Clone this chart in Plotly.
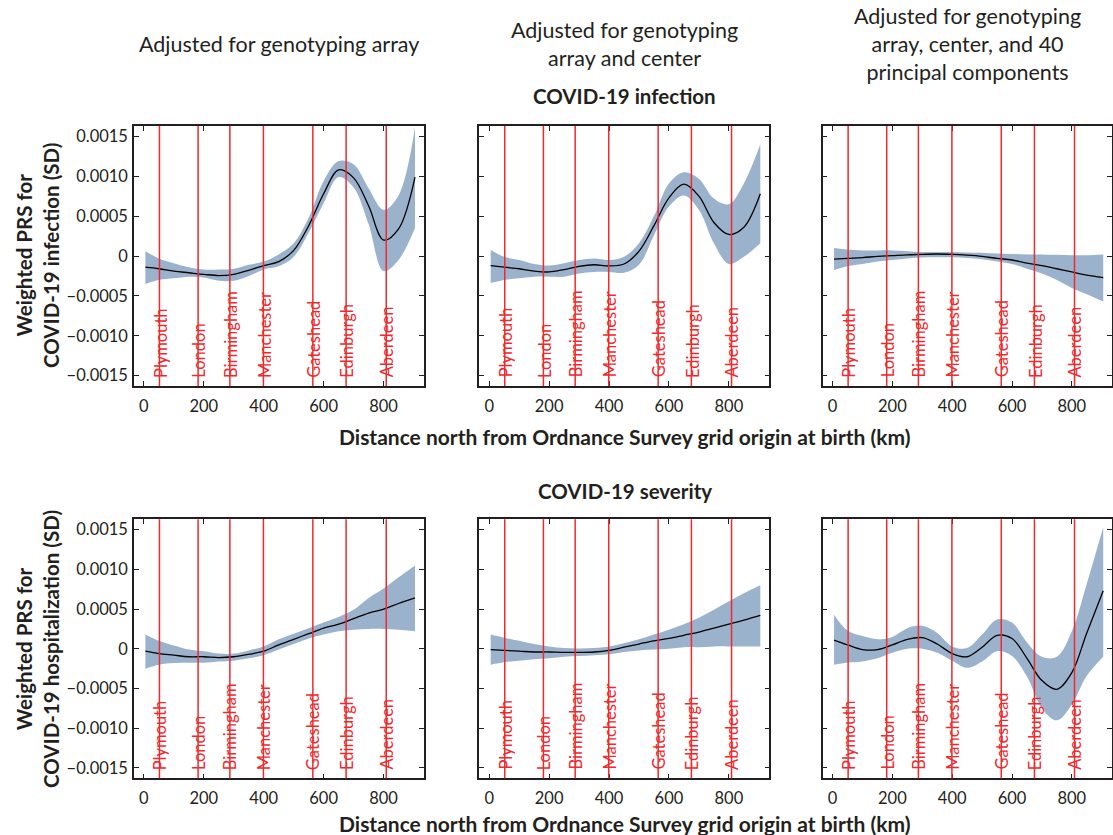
import plotly.graph_objects as go

# ---------------- data ----------------
dist_km = [5, 50, 100, 150, 200, 250, 300, 350, 400, 450, 500, 550, 600, 650, 700, 750, 800, 850, 905]

cities = ["Plymouth", "London", "Birmingham", "Manchester", "Gateshead", "Edinburgh", "Aberdeen"]
city_km = [52, 181, 287, 399, 564, 675, 809]

# COVID-19 infection, adjusted for genotyping array
inf_a_mean = [-0.00014, -0.00016, -0.00019, -0.00021, -0.00023, -0.000245, -0.00023, -0.00018, -0.00012, -0.00007,
              0.00007, 0.00038, 0.00078, 0.00108, 0.00098, 0.00063, 0.0002, 0.00034, 0.00099]
inf_a_hi = [0.00006, -0.00003, -0.00009, -0.00014, -0.00017, -0.00017, -0.00016, -0.00011, -0.00007, 0.00002,
            0.00016, 0.00048, 0.00094, 0.00119, 0.00115, 0.00085, 0.00058, 0.00076, 0.00161]
inf_a_lo = [-0.00035, -0.0003, -0.00028, -0.00026, -0.00027, -0.00031, -0.00031, -0.00025, -0.00017, -0.00013,
            -0.00001, 0.00029, 0.00066, 0.00099, 0.00086, 0.0004, -0.00019, -0.00005, 0.00035]

# COVID-19 infection, adjusted for array and center
inf_ac_mean = [-0.00012, -0.00014, -0.00016, -0.00019, -0.0002, -0.00017, -0.00013, -0.00011, -0.000125, -0.0001,
               0.00006, 0.00038, 0.00073, 0.0009, 0.00075, 0.00042, 0.00027, 0.00036, 0.00078]
inf_ac_hi = [0.000075, -0.00001, -0.00005, -0.0001, -0.00012, -0.00009, -0.00005, -0.00003, -0.00005, -0.00001,
             0.00016, 0.0005, 0.00091, 0.00105, 0.00097, 0.00072, 0.00065, 0.00091, 0.0014]
inf_ac_lo = [-0.00034, -0.0003, -0.00028, -0.00026, -0.00026, -0.00026, -0.00022, -0.0002, -0.0002, -0.00021,
             -0.00011, 0.00026, 0.00062, 0.00076, 0.00058, 0.00016, -0.0001, -0.00001, 0.00016]

# COVID-19 infection, adjusted for array, center and 40 PCs
inf_acp_mean = [-0.00004, -0.00003, -0.00002, -0.000005, 0.000005, 0.000015, 0.00002, 0.000025, 0.00002, 0.00001,
                -0.000005, -0.00003, -0.00005, -0.00009, -0.00012, -0.00016, -0.0002, -0.00024, -0.00027]
inf_acp_hi = [0.0001, 0.00008, 0.00007, 0.00007, 0.00007, 0.00006, 0.00005, 0.00005, 0.00005, 0.000045,
              0.00004, 0.00003, 0.000025, 0.00002, 0.00002, 0.000015, 0.00001, 0.00001, 0.00002]
inf_acp_lo = [-0.000175, -0.00013, -0.0001, -0.00007, -0.00005, -0.00003, -0.00002, -0.000017, -0.000017, -0.000025,
              -0.00004, -0.00007, -0.0001, -0.00016, -0.00022, -0.0003, -0.0004, -0.00048, -0.00057]

# COVID-19 severity, adjusted for genotyping array
sev_a_mean = [-0.00003, -0.00006, -0.00008, -0.0001, -0.0001, -0.00011, -0.0001, -0.00007, -0.00003, 0.00005,
              0.00012, 0.00019, 0.00026, 0.00031, 0.00038, 0.00045, 0.0005, 0.00057, 0.00064]
sev_a_hi = [0.00018, 0.0001, 0.00004, -0.00001, -0.00003, -0.00006, -0.00006, -0.00002, 0.00003, 0.00012,
            0.00019, 0.00026, 0.00033, 0.0004, 0.00049, 0.00064, 0.00076, 0.0009, 0.00105]
sev_a_lo = [-0.00025, -0.0002, -0.00018, -0.000175, -0.000175, -0.00016, -0.00015, -0.00012, -0.00008, -0.00001,
            0.00006, 0.00013, 0.00018, 0.00022, 0.00024, 0.00025, 0.00025, 0.00024, 0.00022]

# COVID-19 severity, adjusted for array and center
sev_ac_mean = [-0.00001, -0.00002, -0.00003, -0.00004, -0.00004, -0.000045, -0.000045, -0.00004, -0.00002, 0.00002,
               0.00006, 0.0001, 0.00013, 0.00017, 0.00021, 0.00026, 0.00031, 0.00036, 0.00042]
sev_ac_hi = [0.00018, 0.00014, 0.0001, 0.00006, 0.00003, 0.00001, 0.000005, 0.00001, 0.00003, 0.00007,
             0.00012, 0.00018, 0.00024, 0.00031, 0.00039, 0.00049, 0.0006, 0.0007, 0.0008]
sev_ac_lo = [-0.0002, -0.00017, -0.00015, -0.00013, -0.00012, -0.0001, -0.00009, -0.00008, -0.00007, -0.00004,
             -0.00002, -0.00001, 0.0, 0.00002, 0.00002, 0.00003, 0.00003, 0.00003, 0.00003]

# COVID-19 severity, adjusted for array, center and 40 PCs
sev_acp_mean = [0.00011, 0.00005, -0.00001, -0.00001, 0.00005, 0.00012, 0.00014, 0.00006, -0.00006, -0.0001,
                0.00002, 0.00017, 0.00013, -0.00012, -0.0004, -0.00051, -0.0003, 0.0002, 0.00073]
sev_acp_hi = [0.00043, 0.00023, 0.00016, 0.00012, 0.00015, 0.00026, 0.00029, 0.0002, 0.00003, 0.00001,
              0.00018, 0.00037, 0.00033, 0.00008, -0.0001, -0.0001, 0.00022, 0.00082, 0.00153]
sev_acp_lo = [-0.0002, -0.000175, -0.00016, -0.00012, -0.00005, 0.0, 0.0, -0.00005, -0.00015, -0.00024,
              -0.00016, -0.00003, -0.00009, -0.00035, -0.00075, -0.0009, -0.0007, -0.00034, -0.0001]

col_titles = ["Adjusted for genotyping array",
              "Adjusted for genotyping<br>array and center",
              "Adjusted for genotyping<br>array, center, and 40<br>principal components"]
row_titles = ["COVID-19 infection", "COVID-19 severity"]
y_titles = ["Weighted PRS for<br>COVID-19 infection (SD)",
            "Weighted PRS for<br>COVID-19 hospitalization (SD)"]
x_title = "Distance north from Ordnance Survey grid origin at birth (km)"
y_tickvals = [-0.0015, -0.001, -0.0005, 0, 0.0005, 0.001, 0.0015]
y_ticktext = ["\u22120.0015", "\u22120.0010", "\u22120.0005", "0", "0.0005", "0.0010", "0.0015"]
x_tickvals = [0, 200, 400, 600, 800]

panels = [
    (inf_a_mean, inf_a_lo, inf_a_hi),
    (inf_ac_mean, inf_ac_lo, inf_ac_hi),
    (inf_acp_mean, inf_acp_lo, inf_acp_hi),
    (sev_a_mean, sev_a_lo, sev_a_hi),
    (sev_ac_mean, sev_ac_lo, sev_ac_hi),
    (sev_acp_mean, sev_acp_lo, sev_acp_hi),
]

# ---------------- style / layout ----------------
W, H = 1113, 835
FONT = "Lato"
TXT = "#231f20"
BAND = "rgb(155,178,204)"
RED = "#ee2a2e"

col_px = [(134, 424), (479.3, 769.3), (822.7, 1112.2)]
row_px = [(126, 386), (519.3, 778.3)]

fig = go.Figure()
layout = dict(
    width=W, height=H, margin=dict(l=0, r=0, t=0, b=0),
    paper_bgcolor="white", plot_bgcolor="white", showlegend=False,
    font=dict(family=FONT, color=TXT),
)
annotations = []
shapes = []

for i, (mean, lo, hi) in enumerate(panels):
    r, c = divmod(i, 3)
    k = i + 1
    xa = "x" if k == 1 else f"x{k}"
    ya = "y" if k == 1 else f"y{k}"
    fig.add_trace(go.Scatter(x=dist_km, y=lo, xaxis=xa, yaxis=ya, mode="lines",
                             line=dict(width=0, shape="spline", color=BAND), hoverinfo="skip"))
    fig.add_trace(go.Scatter(x=dist_km, y=hi, xaxis=xa, yaxis=ya, mode="lines", fill="tonexty",
                             fillcolor=BAND, line=dict(width=0, shape="spline", color=BAND), hoverinfo="skip"))
    fig.add_trace(go.Scatter(x=dist_km, y=mean, xaxis=xa, yaxis=ya, mode="lines",
                             line=dict(width=1.3, shape="spline", color="black")))
    x0, x1 = col_px[c]
    y0, y1 = row_px[r]
    xkey = "xaxis" if k == 1 else f"xaxis{k}"
    ykey = "yaxis" if k == 1 else f"yaxis{k}"
    layout[xkey] = dict(domain=[x0 / W, x1 / W], anchor=ya, range=[-33, 935],
                        tickvals=x_tickvals, ticks="inside", ticklen=5, tickwidth=1.2, tickcolor="#231f20",
                        showline=True, linecolor="#231f20", linewidth=1.5, mirror="ticks",
                        ticklabelstandoff=4,
                        showgrid=False, zeroline=False, tickfont=dict(size=16.5, color=TXT, family=FONT))
    layout[ykey] = dict(domain=[1 - y1 / H, 1 - y0 / H], anchor=xa, range=[-0.00163, 0.00163],
                        tickvals=y_tickvals, ticktext=y_ticktext, showticklabels=(c == 0),
                        ticks="inside", ticklen=5, tickwidth=1.2, tickcolor="#231f20",
                        showline=True, linecolor="#231f20", linewidth=1.5, mirror="ticks",
                        ticklabelstandoff=1,
                        showgrid=False, zeroline=False, tickfont=dict(size=16.5, color=TXT, family=FONT))
    for name, km in zip(cities, city_km):
        shapes.append(dict(type="line", xref=xa, yref=f"{ya} domain", x0=km, x1=km, y0=0, y1=1,
                           line=dict(color=RED, width=1.5), layer="above"))
        annotations.append(dict(text=name, xref=xa, yref=ya, x=km + 3, y=-0.00155, xanchor="center",
                                yanchor="bottom", textangle=-90, showarrow=False,
                                font=dict(size=16.5, color=RED, family=FONT)))

# column titles
for c, t in enumerate(col_titles):
    x0, x1 = col_px[c]
    annotations.append(dict(text=t, xref="paper", yref="paper", x=(x0 + x1) / 2 / W, y=1 - 44 / H,
                            xanchor="center", yanchor="middle", showarrow=False,
                            font=dict(size=21.5, color=TXT, family=FONT)))
# row titles
for r, (t, ypix) in enumerate(zip(row_titles, [96, 491])):
    annotations.append(dict(text="<b>" + t + "</b>", xref="paper", yref="paper", x=624.5 / W, y=1 - ypix / H,
                            xanchor="center", yanchor="middle", showarrow=False,
                            font=dict(size=20.5, color=TXT, family=FONT)))
# x titles
for ypix in [437, 823]:
    annotations.append(dict(text="<b>" + x_title + "</b>", xref="paper", yref="paper", x=624.5 / W,
                            y=1 - ypix / H, xanchor="center", yanchor="middle", showarrow=False,
                            font=dict(size=21, color=TXT, family=FONT)))
# y titles
for t, ypix in zip(y_titles, [256, 649]):
    annotations.append(dict(text="<b>" + t + "</b>", xref="paper", yref="paper", x=37 / W, y=1 - ypix / H,
                            xanchor="center", yanchor="middle", textangle=-90, showarrow=False,
                            font=dict(size=20.5, color=TXT, family=FONT)))

layout["annotations"] = annotations
layout["shapes"] = shapes
fig.update_layout(**layout)
fig.write_html("out.html", config={"displayModeBar": False},
               post_script="document.body.style.margin='0';")
